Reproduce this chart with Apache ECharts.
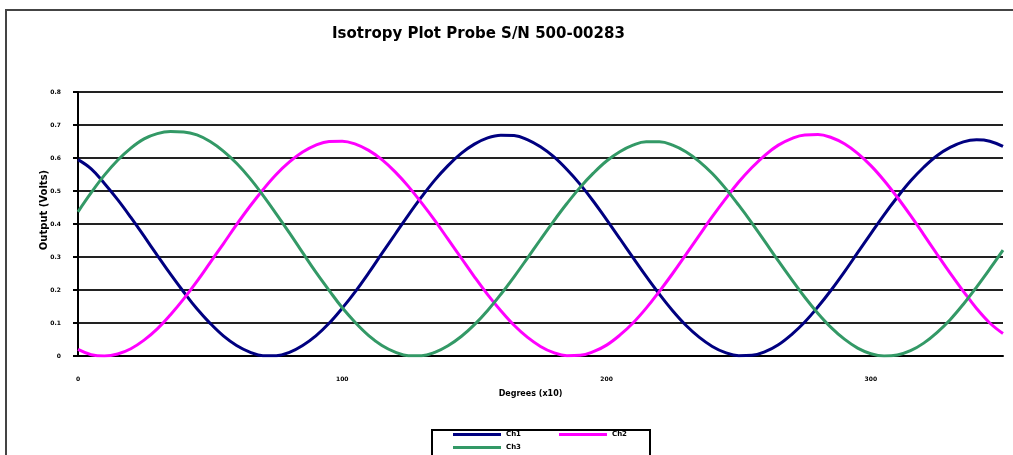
<!DOCTYPE html>
<html>
<head>
<meta charset="utf-8">
<script src="https://cdn.jsdelivr.net/npm/echarts@6/dist/echarts.min.js"></script>
<style>
html,body{margin:0;padding:0;background:#fff;}
#chart{width:1013px;height:455px;}
</style>
</head>
<body>
<div id="chart"></div>
<script>
// Data
var titleText = 'Isotropy Plot Probe S/N 500-00283';
var xAxisName = 'Degrees (x10)';
var yAxisName = 'Output (Volts)';
var seriesNames = ['Ch1', 'Ch2', 'Ch3'];
var xValues = [0,5,10,15,20,25,30,35,40,45,50,55,60,65,70,75,80,85,90,95,100,105,110,115,120,125,130,135,140,145,150,155,160,165,170,175,180,185,190,195,200,205,210,215,220,225,230,235,240,245,250,255,260,265,270,275,280,285,290,295,300,305,310,315,320,325,330,335,340,345,350];
var ch1 = [0.595,0.567,0.523,0.474,0.420,0.363,0.305,0.248,0.194,0.143,0.099,0.061,0.032,0.012,0.001,0.001,0.011,0.032,0.061,0.099,0.145,0.196,0.252,0.311,0.369,0.427,0.482,0.533,0.577,0.614,0.642,0.661,0.669,0.668,0.656,0.634,0.604,0.565,0.520,0.469,0.413,0.356,0.298,0.241,0.187,0.137,0.093,0.057,0.029,0.010,0.001,0.002,0.013,0.034,0.065,0.103,0.149,0.200,0.255,0.313,0.371,0.428,0.481,0.530,0.572,0.607,0.632,0.649,0.655,0.651,0.635];
var ch2 = [0.020,0.004,0.000,0.006,0.022,0.048,0.082,0.125,0.173,0.226,0.283,0.340,0.398,0.453,0.504,0.550,0.588,0.618,0.639,0.650,0.651,0.642,0.623,0.595,0.558,0.514,0.464,0.411,0.354,0.297,0.240,0.186,0.137,0.093,0.057,0.029,0.010,0.001,0.002,0.013,0.033,0.063,0.100,0.145,0.196,0.250,0.307,0.365,0.422,0.476,0.527,0.571,0.609,0.639,0.659,0.670,0.671,0.662,0.643,0.614,0.577,0.532,0.481,0.426,0.368,0.309,0.251,0.196,0.144,0.100,0.068];
var ch3 = [0.437,0.495,0.548,0.593,0.630,0.658,0.674,0.680,0.679,0.670,0.650,0.621,0.584,0.539,0.487,0.431,0.373,0.313,0.254,0.199,0.146,0.101,0.062,0.032,0.012,0.001,0.001,0.011,0.031,0.059,0.095,0.138,0.187,0.240,0.296,0.353,0.409,0.462,0.511,0.554,0.591,0.619,0.639,0.649,0.649,0.639,0.619,0.590,0.553,0.508,0.457,0.403,0.346,0.288,0.232,0.178,0.129,0.086,0.051,0.024,0.007,0.000,0.003,0.016,0.039,0.071,0.110,0.157,0.209,0.264,0.321];
var seriesColors = ['#000080', '#FF00FF', '#339966'];

function pairs(ys){ return xValues.map(function(x,i){ return [x, ys[i]]; }); }
var allSeries = [ch1, ch2, ch3];

var chart = echarts.init(document.getElementById('chart'), null, {renderer:'canvas'});
var FONT = 'DejaVu Sans';
var bold = {fontFamily:FONT, fontWeight:'bold', color:'#000'};

var option = {
  backgroundColor:'#fff',
  animation:false,
  title:{
    text:titleText, left:327, top:22,
    textStyle:{fontFamily:FONT, fontWeight:'bold', fontSize:15, color:'#000'}
  },
  grid:{left:78, right:10, top:92, bottom:99, containLabel:false},
  legend:[
    {data:['Ch1','Ch2'], left:453, top:431, orient:'horizontal', itemGap:38, itemWidth:48, itemHeight:3, icon:'rect', padding:0,
     textStyle:{fontFamily:FONT, fontWeight:'bold', fontSize:7, color:'#000'}},
    {data:['Ch3'], left:453, top:444, orient:'horizontal', itemWidth:48, itemHeight:3, icon:'rect', padding:0,
     textStyle:{fontFamily:FONT, fontWeight:'bold', fontSize:7, color:'#000'}}
  ],
  xAxis:{
    type:'value', min:0, max:350, interval:100,
    name:xAxisName, nameLocation:'middle', nameGap:34,
    nameTextStyle:Object.assign({fontSize:8, padding:[0,20,0,0]}, bold),
    axisLine:{show:true, lineStyle:{color:'#000', width:2}},
    axisTick:{show:false},
    axisLabel:Object.assign({fontSize:6, margin:20, showMaxLabel:false}, bold),
    splitLine:{show:false}
  },
  yAxis:{
    type:'value', min:0, max:0.8, interval:0.1,
    axisLine:{show:true, lineStyle:{color:'#000', width:2}},
    axisTick:{show:true, inside:false, length:5, lineStyle:{color:'#000', width:2}},
    axisLabel:Object.assign({fontSize:6, margin:17, formatter:function(v){return v===0?'0':v.toFixed(1);}}, bold),
    splitLine:{show:true, lineStyle:{color:'#222', width:2}}
  },
  graphic:[
    {type:'rect', silent:true, z:-1, shape:{x:6, y:10, width:1030, height:470}, style:{fill:null, stroke:'#444', lineWidth:2}},
    {type:'rect', silent:true, shape:{x:432, y:430, width:218, height:40}, style:{fill:null, stroke:'#000', lineWidth:2}},
    {type:'text', silent:true, x:44, y:210, rotation:Math.PI/2,
     style:{text:yAxisName, font:'bold 10px "DejaVu Sans"', fill:'#000', align:'center', verticalAlign:'middle'}}
  ],
  series: allSeries.map(function(ys, i){
    return {
      name:seriesNames[i], type:'line', data:pairs(ys), smooth:0.4, showSymbol:false,
      lineStyle:{color:seriesColors[i], width:3}, itemStyle:{color:seriesColors[i]}
    };
  })
};
chart.setOption(option);
</script>
</body>
</html>
